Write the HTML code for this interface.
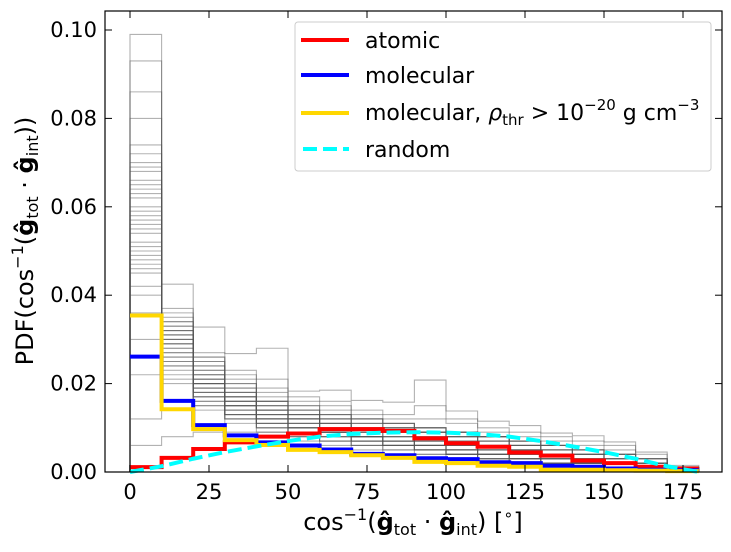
<!DOCTYPE html>
<html><head><meta charset="utf-8"><style>
body{margin:0;background:#fff}
svg text{font-family:"DejaVu Sans","Liberation Sans",sans-serif;fill:#000}
</style></head><body>
<svg id="chart" width="731" height="547" viewBox="0 0 731 547" xmlns="http://www.w3.org/2000/svg">
<rect x="0" y="0" width="731" height="547" fill="#fff"/>
<g id="grey"></g><g id="main"></g><g id="axes"></g><g id="legend"></g>
</svg>
<script>
const binEdges=[0,10,20,30,40,50,60,70,80,90,100,110,120,130,140,150,160,170,180];
const atomic=[0.0011,0.0032,0.0052,0.0067,0.0080,0.0087,0.0097,0.0097,0.0093,0.0076,0.0065,0.0057,0.0044,0.0037,0.0026,0.0020,0.0012,0.0008];
const molecular=[0.0261,0.0161,0.0106,0.0083,0.0067,0.0060,0.0051,0.0041,0.0038,0.0031,0.0029,0.0022,0.0020,0.0014,0.0012,0.0008,0.0005,0.0004];
const molecularThr=[0.0354,0.0142,0.0097,0.0072,0.0061,0.0050,0.0045,0.0038,0.0032,0.0023,0.0020,0.0014,0.0012,0.0005,0.0005,0.0004,0.0003,0.0002];
const randomX=[0,10,20,30,40,50,60,70,80,90,100,110,120,130,140,150,160,170,180];
const randomY=[0,0.0013,0.0030,0.0045,0.0058,0.0070,0.0080,0.0086,0.0089,0.0090,0.0089,0.0086,0.0080,0.0070,0.0058,0.0045,0.0030,0.0013,0];
const greySeries=[
[0.099,0.030,0.020,0.015,0.012,0.010,0.009,0.007,0.006,0.005,0.004,0.003,0.003,0.002,0.002,0.001,0.001,0.0005],
[0.093,0.025,0.018,0.016,0.013,0.011,0.008,0.007,0.006,0.005,0.004,0.003,0.002,0.002,0.001,0.001,0.001,0.0004],
[0.086,0.028,0.022,0.014,0.011,0.009,0.008,0.007,0.006,0.006,0.005,0.004,0.003,0.002,0.002,0.001,0.001,0.0005],
[0.080,0.033,0.021,0.017,0.012,0.010,0.009,0.008,0.007,0.006,0.005,0.004,0.003,0.003,0.002,0.002,0.001,0.0006],
[0.074,0.031,0.019,0.013,0.011,0.010,0.009,0.008,0.007,0.006,0.006,0.005,0.004,0.003,0.003,0.002,0.001,0.0007],
[0.070,0.035,0.024,0.018,0.015,0.012,0.010,0.008,0.007,0.006,0.005,0.004,0.003,0.003,0.002,0.002,0.001,0.0005],
[0.066,0.032,0.020,0.016,0.013,0.011,0.010,0.009,0.008,0.007,0.006,0.005,0.004,0.003,0.002,0.002,0.001,0.0006],
[0.063,0.029,0.023,0.017,0.014,0.012,0.011,0.009,0.008,0.007,0.006,0.005,0.005,0.004,0.003,0.002,0.001,0.0008],
[0.060,0.034,0.025,0.019,0.015,0.013,0.011,0.010,0.009,0.008,0.007,0.006,0.005,0.004,0.003,0.002,0.002,0.001],
[0.057,0.030,0.021,0.016,0.014,0.012,0.011,0.010,0.009,0.008,0.007,0.006,0.005,0.004,0.004,0.003,0.002,0.001],
[0.055,0.027,0.019,0.015,0.013,0.012,0.010,0.009,0.009,0.008,0.007,0.006,0.005,0.004,0.003,0.003,0.002,0.001],
[0.052,0.033,0.022,0.020,0.016,0.013,0.012,0.011,0.010,0.009,0.008,0.006,0.005,0.004,0.003,0.002,0.002,0.001],
[0.050,0.031,0.024,0.018,0.015,0.014,0.012,0.010,0.010,0.009,0.008,0.007,0.006,0.005,0.004,0.003,0.002,0.001],
[0.048,0.026,0.020,0.015,0.014,0.012,0.011,0.010,0.009,0.009,0.008,0.007,0.006,0.005,0.004,0.003,0.002,0.001],
[0.046,0.034,0.026,0.021,0.017,0.014,0.013,0.011,0.010,0.009,0.008,0.007,0.006,0.005,0.004,0.003,0.002,0.001],
[0.047,0.029,0.023,0.019,0.016,0.015,0.013,0.012,0.011,0.010,0.009,0.008,0.007,0.006,0.005,0.004,0.003,0.001],
[0.058,0.036,0.021,0.017,0.016,0.013,0.012,0.012,0.011,0.010,0.009,0.008,0.006,0.005,0.004,0.003,0.002,0.001],
[0.068,0.032,0.025,0.020,0.018,0.015,0.014,0.012,0.011,0.010,0.009,0.007,0.006,0.005,0.004,0.003,0.002,0.001],
[0.042,0.0425,0.0328,0.0268,0.028,0.0183,0.0185,0.0162,0.0158,0.0208,0.0138,0.0115,0.0105,0.0088,0.0082,0.0068,0.0045,0.0015],
[0.040,0.037,0.027,0.022,0.021,0.017,0.016,0.014,0.013,0.015,0.012,0.010,0.009,0.008,0.007,0.006,0.004,0.0012],
[0.036,0.030,0.026,0.023,0.019,0.016,0.015,0.013,0.012,0.012,0.011,0.009,0.008,0.007,0.006,0.005,0.003,0.001],
[0.030,0.024,0.020,0.018,0.016,0.014,0.013,0.012,0.011,0.010,0.009,0.008,0.007,0.006,0.005,0.004,0.003,0.001],
[0.022,0.020,0.017,0.015,0.014,0.013,0.012,0.011,0.010,0.010,0.009,0.008,0.007,0.006,0.005,0.004,0.003,0.001],
[0.012,0.016,0.015,0.013,0.012,0.011,0.011,0.010,0.010,0.009,0.009,0.008,0.007,0.006,0.005,0.004,0.003,0.001],
[0.006,0.008,0.009,0.009,0.009,0.009,0.009,0.009,0.009,0.009,0.008,0.008,0.007,0.006,0.005,0.004,0.003,0.001],
[0.045,0.023,0.016,0.012,0.010,0.008,0.007,0.006,0.005,0.004,0.004,0.003,0.002,0.002,0.001,0.001,0.0005,0.0002],
[0.062,0.022,0.014,0.011,0.009,0.007,0.006,0.005,0.004,0.004,0.003,0.003,0.002,0.001,0.001,0.0008,0.0005,0.0002],
[0.054,0.028,0.017,0.012,0.010,0.008,0.007,0.006,0.006,0.005,0.004,0.003,0.003,0.002,0.002,0.001,0.0008,0.0003],
[0.065,0.026,0.018,0.014,0.012,0.010,0.009,0.008,0.007,0.006,0.005,0.004,0.004,0.003,0.002,0.002,0.001,0.0004],
[0.059,0.024,0.016,0.013,0.011,0.009,0.008,0.007,0.006,0.005,0.005,0.004,0.003,0.002,0.002,0.001,0.001,0.0003],
[0.069,0.029,0.019,0.015,0.012,0.010,0.009,0.008,0.007,0.006,0.005,0.004,0.003,0.003,0.002,0.001,0.001,0.0004],
[0.051,0.025,0.018,0.014,0.012,0.011,0.009,0.008,0.007,0.006,0.005,0.005,0.004,0.003,0.002,0.002,0.001,0.0005],
[0.056,0.031,0.020,0.016,0.013,0.010,0.009,0.008,0.008,0.007,0.006,0.005,0.004,0.003,0.003,0.002,0.001,0.0006],
[0.072,0.027,0.017,0.013,0.011,0.009,0.008,0.007,0.006,0.005,0.004,0.004,0.003,0.002,0.002,0.001,0.001,0.0004],
[0.064,0.021,0.015,0.012,0.010,0.008,0.007,0.006,0.005,0.005,0.004,0.003,0.003,0.002,0.001,0.001,0.0006,0.0002],
[0.049,0.032,0.022,0.017,0.014,0.012,0.010,0.009,0.008,0.007,0.006,0.005,0.004,0.004,0.003,0.002,0.001,0.0006]
];
const xTicks=[0,25,50,75,100,125,150,175];
const yTicks=[0,0.02,0.04,0.06,0.08,0.10];
const yTickLabels=["0.00","0.02","0.04","0.06","0.08","0.10"];

const L=105,R=722,T=11,B=472;
const xS=v=>130+(v)*3.1600;
const yS=v=>B-v*4420;
const NS='http://www.w3.org/2000/svg';
function mk(tag,attrs,parent){const e=document.createElementNS(NS,tag);for(const k in attrs)e.setAttribute(k,attrs[k]);parent.appendChild(e);return e;}
function stepPath(vals,closed){let d='';for(let i=0;i<vals.length;i++){const x0=xS(binEdges[i]),x1=xS(binEdges[i+1]),y=yS(vals[i]);
if(i===0)d+=closed?('M'+x0+','+yS(0)+'L'+x0+','+y):('M'+x0+','+y);else d+='L'+x0+','+y;d+='L'+x1+','+y;}
if(closed)d+='L'+xS(binEdges[vals.length])+','+yS(0);return d;}
const grey=document.getElementById('grey');
greySeries.forEach((s,i)=>{const p=mk('path',{d:stepPath(s,true),fill:'none',stroke:'#555','stroke-width':1.1,'stroke-opacity':0.45},grey);

});
const main=document.getElementById('main');
[[atomic,'#ff0000','atomic-histogram'],[molecular,'#0000ff','molecular-histogram'],[molecularThr,'#ffd700','molecular-threshold-histogram']].forEach(([v,c,n])=>{
const p=mk('path',{d:stepPath(v,false),fill:'none',stroke:c,'stroke-width':4},main);

});
const rp=mk('polyline',{points:randomX.map((x,i)=>xS(x)+','+yS(randomY[i])).join(' '),fill:'none',stroke:'#00ffff','stroke-width':4,'stroke-dasharray':'14,6'},main);


const ax=document.getElementById('axes');
const fr=mk('rect',{x:L,y:T,width:R-L,height:B-T,fill:'none',stroke:'#000','stroke-width':1.2},ax);


xTicks.forEach(t=>{const x=xS(t);mk('line',{x1:x,x2:x,y1:B,y2:B-7,stroke:'#000'},ax);mk('line',{x1:x,x2:x,y1:T,y2:T+7,stroke:'#000'},ax);
const tx=mk('text',{x:x,y:B+27,'text-anchor':'middle','font-size':21},ax);tx.textContent=t;

});
yTicks.forEach((t,i)=>{const y=yS(t);mk('line',{x1:L,x2:L+7,y1:y,y2:y,stroke:'#000'},ax);mk('line',{x1:R,x2:R-7,y1:y,y2:y,stroke:'#000'},ax);
const tx=mk('text',{x:97,y:y+7,'text-anchor':'end','font-size':21},ax);tx.textContent=yTickLabels[i];

});
</script>
<svg style="position:absolute;left:0;top:0" width="731" height="547">
<text x="413" y="530" text-anchor="middle" font-size="24">cos<tspan dy="-10" font-size="16">−1</tspan><tspan dy="10">(</tspan><tspan font-weight="bold">ĝ</tspan><tspan dy="5" font-size="16">tot</tspan><tspan dy="-5"> · </tspan><tspan font-weight="bold">ĝ</tspan><tspan dy="5" font-size="16">int</tspan><tspan dy="-5">) [</tspan><tspan dy="-10" font-size="16">∘</tspan><tspan dy="10">]</tspan></text>
<text transform="translate(33,241) rotate(-90)" text-anchor="middle" font-size="24">PDF(cos<tspan dy="-10" font-size="16">−1</tspan><tspan dy="10">(</tspan><tspan font-weight="bold">ĝ</tspan><tspan dy="5" font-size="16">tot</tspan><tspan dy="-5"> · </tspan><tspan font-weight="bold">ĝ</tspan><tspan dy="5" font-size="16">int</tspan><tspan dy="-5">))</tspan></text>
<g>
<rect x="295" y="22" width="416" height="149" rx="3" fill="#fff" fill-opacity="0.85" stroke="#ccc"/>
<line x1="301" x2="349" y1="40" y2="40" stroke="#ff0000" stroke-width="4"/>
<text x="365" y="48" font-size="22">atomic</text>
<line x1="301" x2="349" y1="75" y2="75" stroke="#0000ff" stroke-width="4"/>
<text x="365" y="83" font-size="22">molecular</text>
<line x1="301" x2="349" y1="113" y2="113" stroke="#ffd700" stroke-width="4"/>
<text x="365" y="120" font-size="22">molecular, <tspan font-style="italic">ρ</tspan><tspan dy="5" font-size="15">thr</tspan><tspan dy="-5"> &gt; 10</tspan><tspan dy="-10" font-size="15">−20</tspan><tspan dy="10"> g cm</tspan><tspan dy="-10" font-size="15">−3</tspan></text>
<line x1="303" x2="349" y1="149" y2="149" stroke="#00ffff" stroke-width="4" stroke-dasharray="14,6"/>
<text x="365" y="157" font-size="22">random</text>
</g>
</svg>
</body></html>
